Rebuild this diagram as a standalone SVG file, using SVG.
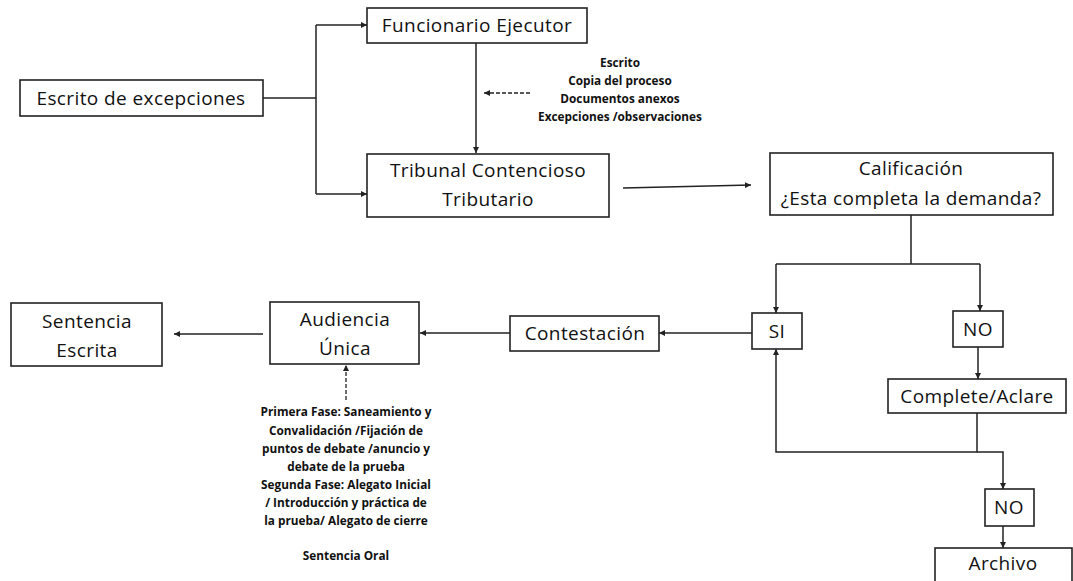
<svg xmlns="http://www.w3.org/2000/svg" width="1073" height="581" viewBox="0 0 1073 581">
<style>
.box{fill:#fff;stroke:#222;stroke-width:1.6}
.t{font-family:"Open Sans","Liberation Sans",sans-serif;font-size:19px;letter-spacing:0.4px;fill:#111;text-anchor:middle}
.s{font-family:"Open Sans","Liberation Sans",sans-serif;font-size:11.8px;font-weight:bold;fill:#111;text-anchor:middle}
.c{fill:none;stroke:#222;stroke-width:1.5}
.d{fill:none;stroke:#222;stroke-width:1.3;stroke-dasharray:4,2}
</style>
<defs>
<marker id="a" viewBox="0 0 10 10" refX="10" refY="5" markerWidth="6" markerHeight="6" markerUnits="userSpaceOnUse" orient="auto">
<path d="M0,0 L10,5 L0,10 z" fill="#222"/>
</marker>
</defs>
<rect width="1073" height="581" fill="#fff"/>
<g id="connectors">
<path class="c" d="M263,98 H316"/>
<path class="c" d="M316,25 V194"/>
<path class="c" d="M316,25 H367" marker-end="url(#a)"/>
<path class="c" d="M316,194 H367" marker-end="url(#a)"/>
<path class="c" d="M476,43 V153" marker-end="url(#a)"/>
<path class="d" d="M530,93 H484" marker-end="url(#a)"/>
<path class="c" d="M623,188 L751,185" marker-end="url(#a)"/>
<path class="c" d="M911,215 V264 M776,264 H980"/>
<path class="c" d="M776,264 V313" marker-end="url(#a)"/>
<path class="c" d="M980,264 V311" marker-end="url(#a)"/>
<path class="c" d="M752,333 H659" marker-end="url(#a)"/>
<path class="c" d="M510,333 H420" marker-end="url(#a)"/>
<path class="c" d="M263,334 H174" marker-end="url(#a)"/>
<path class="d" d="M346,400 V365" marker-end="url(#a)"/>
<path class="c" d="M978,347 V379" marker-end="url(#a)"/>
<path class="c" d="M977,413 V452 H776 V349" marker-end="url(#a)"/>
<path class="c" d="M977,452 H1003 V489" marker-end="url(#a)"/>
<path class="c" d="M1003,526 V548" marker-end="url(#a)"/>
</g>
<g id="escrito">
<rect class="box" x="20" y="80" width="243" height="36"/>
<text class="t" x="141" y="105">Escrito de excepciones</text>
</g>
<g id="funcionario">
<rect class="box" x="367" y="8" width="220" height="35"/>
<text class="t" x="477" y="32">Funcionario Ejecutor</text>
</g>
<g id="nota-envio">
<text class="s" x="620" y="67">Escrito</text>
<text class="s" x="620" y="85">Copia del proceso</text>
<text class="s" x="620" y="103">Documentos  anexos</text>
<text class="s" x="620" y="121">Excepciones  /observaciones</text>
</g>
<g id="tribunal">
<rect class="box" x="367" y="154" width="242" height="63"/>
<text class="t" x="488" y="177">Tribunal Contencioso</text>
<text class="t" x="488" y="206">Tributario</text>
</g>
<g id="calificacion">
<rect class="box" x="770" y="153" width="283" height="62"/>
<text class="t" x="911" y="175">Calificación</text>
<text class="t" x="911" y="205">¿Esta completa la demanda?</text>
</g>
<g id="si">
<rect class="box" x="752" y="313" width="50" height="36"/>
<text class="t" x="777" y="338">SI</text>
</g>
<g id="no1">
<rect class="box" x="953" y="311" width="50" height="36"/>
<text class="t" x="978" y="336">NO</text>
</g>
<g id="contestacion">
<rect class="box" x="510" y="316" width="149" height="35"/>
<text class="t" x="585" y="340">Contestación</text>
</g>
<g id="audiencia">
<rect class="box" x="270" y="302" width="149" height="62"/>
<text class="t" x="345" y="326">Audiencia</text>
<text class="t" x="345" y="355">Única</text>
</g>
<g id="sentencia">
<rect class="box" x="11" y="303" width="151" height="63"/>
<text class="t" x="87" y="328">Sentencia</text>
<text class="t" x="87" y="357">Escrita</text>
</g>
<g id="fases">
<text class="s" x="346" y="416">Primera Fase: Saneamiento y</text>
<text class="s" x="346" y="435">Convalidación /Fijación de</text>
<text class="s" x="346" y="453">puntos de debate /anuncio y</text>
<text class="s" x="346" y="471">debate de la prueba</text>
<text class="s" x="346" y="489">Segunda Fase: Alegato Inicial</text>
<text class="s" x="346" y="507">/ Introducción  y práctica de</text>
<text class="s" x="346" y="525">la prueba/ Alegato de cierre</text>
<text class="s" x="346" y="560">Sentencia Oral</text>
</g>
<g id="complete">
<rect class="box" x="888" y="379" width="178" height="34"/>
<text class="t" x="977" y="403">Complete/Aclare</text>
</g>
<g id="no2">
<rect class="box" x="985" y="489" width="49" height="37"/>
<text class="t" x="1009" y="514">NO</text>
</g>
<g id="archivo">
<rect class="box" x="935" y="548" width="137" height="45"/>
<text class="t" x="1003" y="570">Archivo</text>
</g>
</svg>
